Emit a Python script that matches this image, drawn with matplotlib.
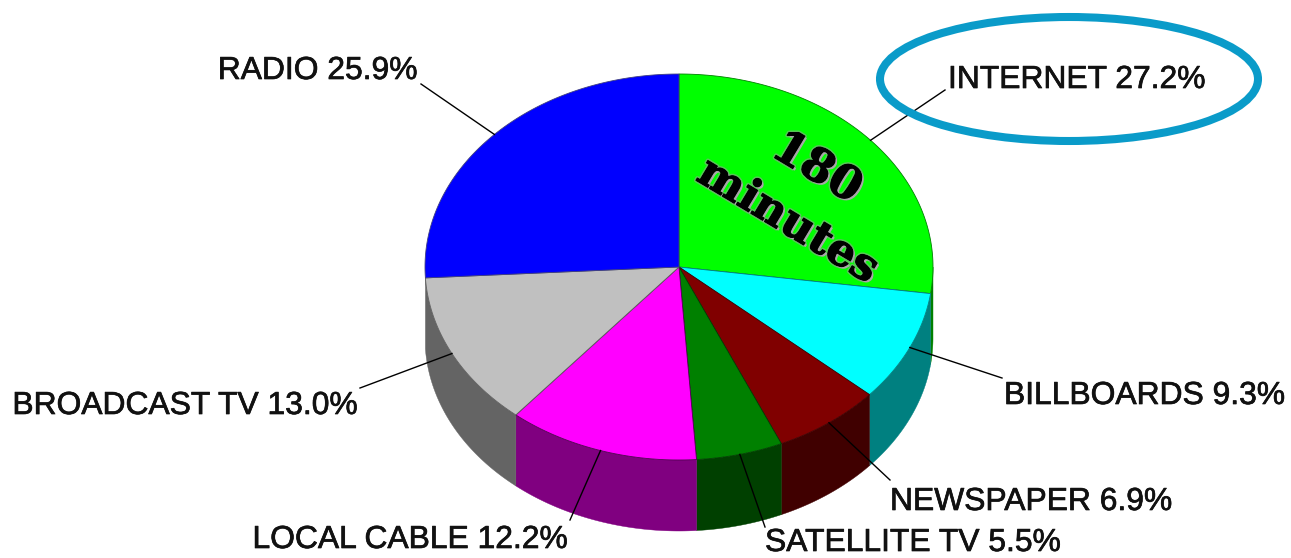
import numpy as np
from matplotlib import pyplot as plt
from matplotlib import patheffects as pe
from matplotlib.patches import Ellipse, Polygon

labels = ["INTERNET", "BILLBOARDS", "NEWSPAPER", "SATELLITE TV", "LOCAL CABLE", "BROADCAST TV", "RADIO"]
shares = [27.2, 9.3, 6.9, 5.5, 12.2, 13.0, 25.9]
top_colors = ["#00ff00", "#00ffff", "#800000", "#008000", "#ff00ff", "#c0c0c0", "#0000ff"]
side_colors = ["#008000", "#008080", "#400000", "#004000", "#800080", "#646464", "#000080"]
edge_colors = ["#008000", "#008080", "#400000", "#004000", "#500050", "#606060", "#404080"]

# layout, in pixels of the 1291x558 picture
CX, CY, RX, RY, DEPTH = 679, 267, 254, 193, 71
leader_ends = [(945, 90), (1002, 378), (890, 480), (765, 527), (570, 520), (360, 388), (421, 84)]
label_pos = [(948, 80, "left"), (1004, 396, "left"), (890, 502, "left"), (765, 543, "left"),
             (567, 540, "right"), (357, 406, "right"), (417, 71, "right")]


def rim(deg):
    rad = np.radians(deg)
    return CX + RX * np.sin(rad), CY - RY * np.cos(rad)


fig, ax = plt.subplots(figsize=(12.91, 5.58), dpi=100)
ax.set_position([0, 0, 1, 1])
ax.set_xlim(0, 1291)
ax.set_ylim(558, 0)
ax.axis("off")

edges = np.concatenate([[0], np.cumsum(shares)]) * 3.6

# side wall, only the front half shows; the last slice adds nothing at the left edge
for i in range(len(shares) - 1):
    a, b = max(edges[i], 90), min(edges[i + 1], 270)
    if a >= b:
        continue
    xs, ys = rim(np.linspace(a, b, 80))
    pts = list(zip(xs, ys)) + list(zip(xs[::-1], ys[::-1] + DEPTH))
    ax.add_patch(Polygon(pts, closed=True, fc=side_colors[i], ec=side_colors[i], lw=0.3, zorder=1))

# top face
for i in range(len(shares)):
    xs, ys = rim(np.linspace(edges[i], edges[i + 1], 120))
    pts = [(CX, CY)] + list(zip(xs, ys))
    ax.add_patch(Polygon(pts, closed=True, fc=top_colors[i], ec=edge_colors[i], lw=0.6, zorder=2))

# leaders and labels
bold_up = [pe.withStroke(linewidth=0.5, foreground="#111111")]
for i in range(len(shares)):
    mid = (edges[i] + edges[i + 1]) / 2
    x0, y0 = rim(mid)
    ax.plot([x0, leader_ends[i][0]], [y0, leader_ends[i][1]], color="black", lw=1.0, zorder=3)
    x, y, ha = label_pos[i]
    ax.text(x, y, f"{labels[i]} {shares[i]:.1f}%", ha=ha, va="center", fontsize=22.9,
            family="Liberation Sans", color="#111111", path_effects=bold_up, zorder=4)

# callout
ax.add_patch(Ellipse((1069, 79), 378, 124, fc="none", ec="#0a9bc9", lw=5.8, zorder=5))

shadow = [pe.withStroke(linewidth=3, foreground="#55c855"),
          pe.SimplePatchShadow(offset=(1.5, -1.5), shadow_rgbFace="#a8a8a8", alpha=1.0),
          pe.withStroke(linewidth=0.8, foreground="black")]
ax.text(817, 168, "180", rotation=-31, rotation_mode="anchor", ha="center", va="center", fontsize=33,
        family="DejaVu Serif", weight="bold", color="black", path_effects=shadow, zorder=6)
ax.text(788, 221, "minutes", rotation=-31, rotation_mode="anchor", ha="center", va="center", fontsize=32,
        family="DejaVu Serif", weight="bold", color="black", path_effects=shadow, zorder=6)

fig.savefig("out.png", dpi=100)
